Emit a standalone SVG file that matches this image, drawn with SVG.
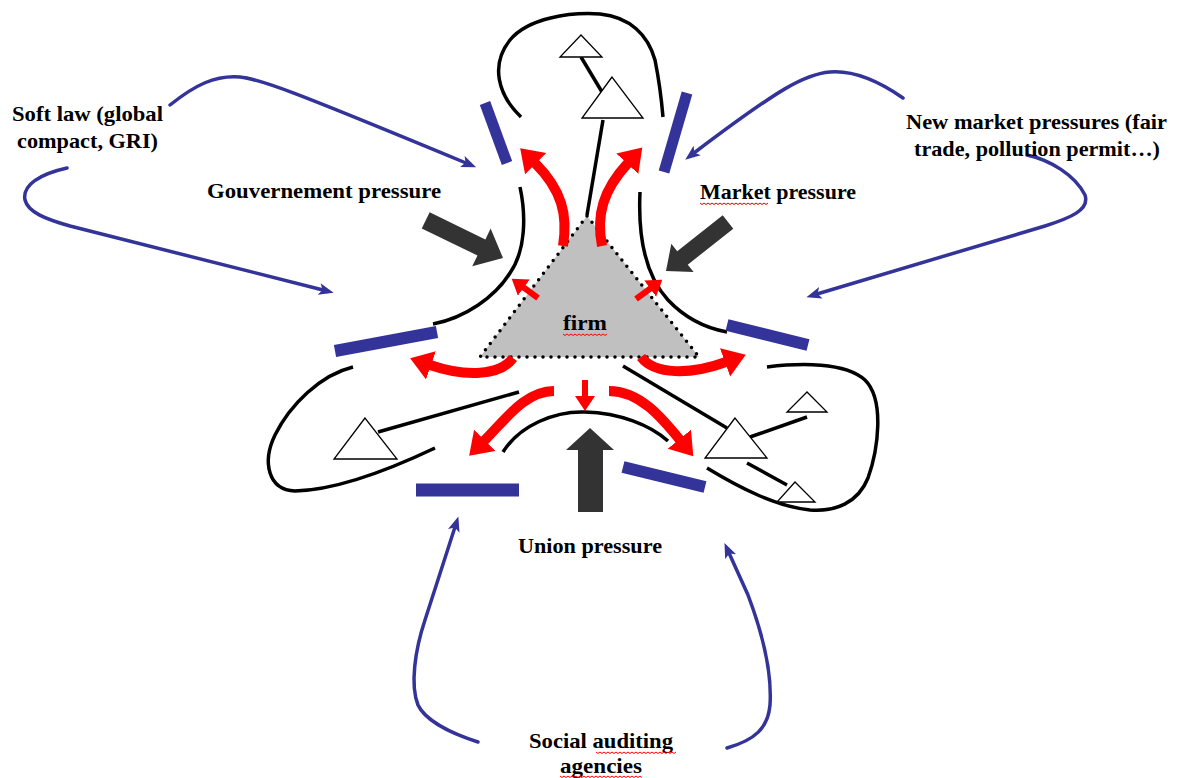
<svg xmlns="http://www.w3.org/2000/svg" width="1185" height="778" viewBox="0 0 1185 778">
<defs>
<style>
.lbl{font-family:"Liberation Serif","Times New Roman",serif;font-weight:bold;font-size:21px;fill:#000}
.blk{fill:none;stroke:#000;stroke-width:3.5;stroke-linecap:butt}
.tri{fill:#fff;stroke:#000;stroke-width:1.3}
.bar{stroke:#333399;stroke-linecap:butt;fill:none}
.blue{fill:none;stroke:#333399;stroke-width:3.5;stroke-linecap:round}
.red{fill:none;stroke:#f00;stroke-width:10;stroke-linecap:butt}
.reds{fill:none;stroke:#f00;stroke-width:6;stroke-linecap:butt}
.dark{fill:#333}
.sq{fill:none;stroke:#f00;stroke-width:1}
</style>
<marker id="rh" markerUnits="userSpaceOnUse" markerWidth="24" markerHeight="32" refX="1" refY="15" orient="auto">
<path d="M0,0 L22,15 L0,30 z" fill="#f00"/>
</marker>
<marker id="rs" markerUnits="userSpaceOnUse" markerWidth="18" markerHeight="22" refX="1" refY="10" orient="auto">
<path d="M0,0 L15,10 L0,20 z" fill="#f00"/>
</marker>
<marker id="bh" markerUnits="userSpaceOnUse" markerWidth="17" markerHeight="14" refX="4" refY="6" orient="auto">
<path d="M0,0 L15,6 L0,12 L3.5,6 z" fill="#333399"/>
</marker>
</defs>
<rect width="1185" height="778" fill="#fff"/>

<g id="boundaries">
<path class="blk" d="M521,117 C 498,95 490,65 510,40 C 528,18 570,12 600,14 C 630,17 648,35 655,60 C 660,85 662,105 663,117"/>
<path class="blk" d="M520,187 C 526,215 526,250 510,273 C 495,297 465,318 433,324"/>
<path class="blk" d="M640,192 C 638,235 645,275 668,300 C 685,318 705,328 727,332"/>
<path class="blk" d="M353,367 C 320,375 290,405 275,435 C 262,462 268,490 295,491 C 340,490 395,467 435,448"/>
<path class="blk" d="M503,452 C 520,425 555,411 585,412 C 620,413 650,425 668,441"/>
<path class="blk" d="M767,367 C 800,363 845,362 865,380 C 885,400 878,450 868,478 C 858,503 835,512 810,510 C 775,506 740,488 707,468"/>
</g>

<g id="links">
<line class="blk" x1="603" y1="120" x2="587" y2="215"/>
<line class="blk" x1="581" y1="57" x2="602" y2="92"/>
<line class="blk" x1="378" y1="432" x2="519" y2="392"/>
<line class="blk" x1="623" y1="366" x2="727" y2="428"/>
<line class="blk" x1="750" y1="437" x2="807" y2="417"/>
<line class="blk" x1="747" y1="463" x2="787" y2="485"/>
</g>

<g id="actors">
<polygon class="tri" points="581,35 560,57 602,57"/>
<polygon class="tri" points="612,77 582,118 643,118"/>
<polygon class="tri" points="365,418 334,459 397,459"/>
<polygon class="tri" points="735,418 705,458 767,458"/>
<polygon class="tri" points="807,392 787,412 827,412"/>
<polygon class="tri" points="795,482 777,502 815,502"/>
</g>

<g id="firm">
<polygon points="587,216 480,357 699,357" fill="#c0c0c0" stroke="#000" stroke-width="3.5" stroke-linecap="round" stroke-dasharray="0 8"/>
<text class="lbl" x="563" y="330" textLength="44" lengthAdjust="spacingAndGlyphs">firm</text>
<path class="sq" d="M563,334 l2,1.5 l2,-1.5 l2,1.5 l2,-1.5 l2,1.5 l2,-1.5 l2,1.5 l2,-1.5 l2,1.5 l2,-1.5 l2,1.5 l2,-1.5 l2,1.5 l2,-1.5 l2,1.5 l2,-1.5 l2,1.5 l2,-1.5 l2,1.5 l2,-1.5 l2,1.5 l2,-1.5"/>
</g>

<g id="filters">
<line class="bar" stroke-width="11" x1="485" y1="103" x2="507" y2="163"/>
<line class="bar" stroke-width="11" x1="687" y1="93" x2="664" y2="172"/>
<line class="bar" stroke-width="12" x1="335" y1="351" x2="437" y2="332"/>
<line class="bar" stroke-width="12" x1="727" y1="325" x2="808" y2="345"/>
<line class="bar" stroke-width="13" x1="416" y1="490" x2="519" y2="490"/>
<line class="bar" stroke-width="12" x1="623" y1="467" x2="705" y2="487"/>
</g>

<g id="pressures">
<polygon class="dark" transform="translate(503,258) rotate(26)" points="0,0 -24,-21 -24,-9 -86,-9 -86,9 -24,9 -24,21"/>
<polygon class="dark" transform="translate(666,271) rotate(141.7)" points="0,0 -21,-18 -21,-8.5 -79,-8.5 -79,8.5 -21,8.5 -21,18"/>
<polygon class="dark" points="590,428 614,450 603,450 603,512 578,512 578,450 566,450"/>
</g>

<g id="connectors">
<path class="red" marker-end="url(#rh)" d="M563,246 C 568,215 562,190 535,163"/>
<path class="red" marker-end="url(#rh)" d="M602,246 C 596,215 603,190 628,163"/>
<path class="red" marker-end="url(#rh)" d="M513,358 C 500,376 465,377 430,365"/>
<path class="red" marker-end="url(#rh)" d="M641,357 C 655,375 690,375 726,362"/>
<path class="red" marker-end="url(#rh)" d="M554,391 C 525,391 505,420 484,441"/>
<path class="red" marker-end="url(#rh)" d="M609,391 C 640,391 662,418 680,440"/>
<path class="reds" marker-end="url(#rs)" d="M585,380 L585,397"/>
<path class="reds" marker-end="url(#rs)" d="M538,298 L523,287"/>
<path class="reds" marker-end="url(#rs)" d="M636,299 L651,288"/>

<path class="blue" marker-end="url(#bh)" d="M170,105 C 195,85 215,75 240,77 C 260,79 290,90 466,163"/>
<path class="blue" marker-end="url(#bh)" d="M67,168 C 40,174 22,185 25,200 C 28,212 45,219 70,226 L 323,290"/>
<path class="blue" marker-end="url(#bh)" d="M903,98 C 880,82 855,70 830,72 C 805,74 780,88 694,153"/>
<path class="blue" marker-end="url(#bh)" d="M1027,155 C 1050,160 1075,175 1085,195 C 1090,210 1070,218 1045,226 L 817,294"/>
<path class="blue" marker-end="url(#bh)" d="M478,742 C 450,733 425,720 418,705 C 410,685 415,650 425,620 L 455,527"/>
<path class="blue" marker-end="url(#bh)" d="M727,748 C 755,740 768,728 770,705 C 772,675 765,640 748,595 L 729,553"/>
</g>

<g id="labels">
<text class="lbl" x="12" y="121" textLength="151" lengthAdjust="spacingAndGlyphs">Soft law (global</text>
<text class="lbl" x="17" y="148" textLength="141" lengthAdjust="spacingAndGlyphs">compact, GRI)</text>
<text class="lbl" x="207" y="198" textLength="234" lengthAdjust="spacingAndGlyphs">Gouvernement pressure</text>
<text class="lbl" x="700" y="199" textLength="156" lengthAdjust="spacingAndGlyphs">Market pressure</text>
<path class="sq" d="M700,203 l2,1.5 l2,-1.5 l2,1.5 l2,-1.5 l2,1.5 l2,-1.5 l2,1.5 l2,-1.5 l2,1.5 l2,-1.5 l2,1.5 l2,-1.5 l2,1.5 l2,-1.5 l2,1.5 l2,-1.5 l2,1.5 l2,-1.5 l2,1.5 l2,-1.5 l2,1.5 l2,-1.5 l2,1.5 l2,-1.5 l2,1.5 l2,-1.5 l2,1.5 l2,-1.5 l2,1.5 l2,-1.5 l2,1.5 l2,-1.5 l2,1.5 l2,-1.5"/>
<text class="lbl" x="906" y="129" textLength="261" lengthAdjust="spacingAndGlyphs">New market pressures (fair</text>
<text class="lbl" x="914" y="156" textLength="246" lengthAdjust="spacingAndGlyphs">trade, pollution permit…)</text>
<text class="lbl" x="518" y="553" textLength="144" lengthAdjust="spacingAndGlyphs">Union pressure</text>
<text class="lbl" x="529" y="748" textLength="144" lengthAdjust="spacingAndGlyphs">Social auditing</text>
<path class="sq" d="M596,752 l2,1.5 l2,-1.5 l2,1.5 l2,-1.5 l2,1.5 l2,-1.5 l2,1.5 l2,-1.5 l2,1.5 l2,-1.5 l2,1.5 l2,-1.5 l2,1.5 l2,-1.5 l2,1.5 l2,-1.5 l2,1.5 l2,-1.5 l2,1.5 l2,-1.5 l2,1.5 l2,-1.5 l2,1.5 l2,-1.5 l2,1.5 l2,-1.5 l2,1.5 l2,-1.5 l2,1.5 l2,-1.5 l2,1.5 l2,-1.5 l2,1.5 l2,-1.5 l2,1.5 l2,-1.5 l2,1.5 l2,-1.5 l2,1.5 l2,-1.5"/>
<text class="lbl" x="560" y="773" textLength="82" lengthAdjust="spacingAndGlyphs">agencies</text>
<path class="sq" d="M560,776 l2,1.5 l2,-1.5 l2,1.5 l2,-1.5 l2,1.5 l2,-1.5 l2,1.5 l2,-1.5 l2,1.5 l2,-1.5 l2,1.5 l2,-1.5 l2,1.5 l2,-1.5 l2,1.5 l2,-1.5 l2,1.5 l2,-1.5 l2,1.5 l2,-1.5 l2,1.5 l2,-1.5 l2,1.5 l2,-1.5 l2,1.5 l2,-1.5 l2,1.5 l2,-1.5 l2,1.5 l2,-1.5 l2,1.5 l2,-1.5 l2,1.5 l2,-1.5 l2,1.5 l2,-1.5 l2,1.5 l2,-1.5 l2,1.5 l2,-1.5 l2,1.5"/>
</g>
</svg>
